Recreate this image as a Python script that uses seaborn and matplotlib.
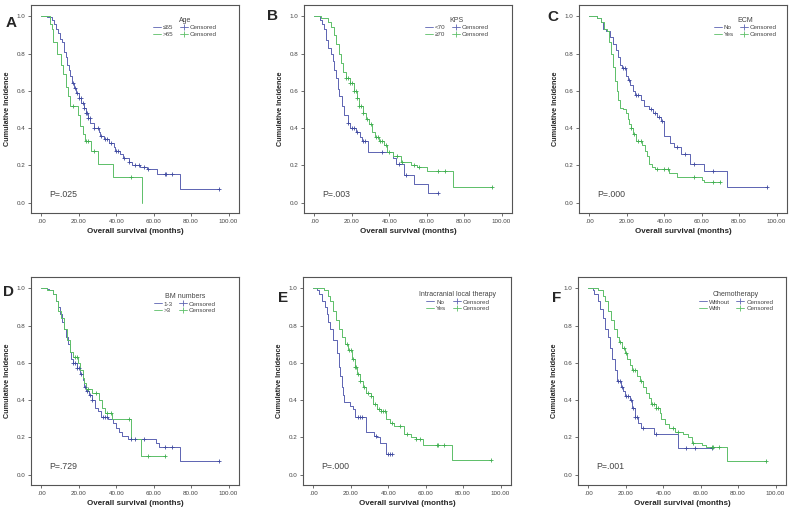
import numpy as np
import matplotlib
matplotlib.use("Agg")
import matplotlib.pyplot as plt
import seaborn as sns
from matplotlib.lines import Line2D

# ---- data (time in months, survival after each step) ----
# A: Age
a1_time = [0, 3, 5.7, 6.6, 8, 8.7, 10.1, 11, 11.9, 13, 13.7, 14.6, 15.5, 16.4, 17.3, 18.7, 20, 21.2, 22.6,
           23.8, 24.9, 26.2, 27.9, 30.6, 31.5, 33.3, 36, 38.6, 39.5, 42.2, 43.6, 46.6, 48.4, 52.8, 56.4,
           61.7, 74.2, 95]
a1_surv = [1.0, 0.995, 0.98, 0.96, 0.93, 0.91, 0.88, 0.86, 0.81, 0.78, 0.74, 0.71, 0.68, 0.64, 0.615, 0.59,
           0.56, 0.535, 0.51, 0.48, 0.455, 0.43, 0.40, 0.38, 0.36, 0.34, 0.32, 0.30, 0.28, 0.26, 0.24,
           0.22, 0.20, 0.19, 0.18, 0.155, 0.075, 0.075]
a1_cens = [17, 18, 19, 20, 21, 22, 23, 24, 24.5, 25, 26, 28, 30, 32, 34, 35, 37, 40, 41, 44, 47, 50,
           52, 55, 57, 66, 66.5, 70, 95]
a2_time = [0, 4.4, 5.5, 6.2, 8.3, 10.4, 11.5, 13, 14, 15.5, 19.5, 20.5, 22, 23.5, 26.5, 30, 38.5, 54]
a2_surv = [1.0, 0.96, 0.93, 0.86, 0.80, 0.74, 0.69, 0.62, 0.57, 0.52, 0.47, 0.41, 0.37, 0.33, 0.28,
           0.21, 0.14, 0.0]
a2_cens = [17, 24, 25, 28, 48]

# B: KPS
b1_time = [0, 3, 4, 5.3, 6.2, 7, 8.9, 10, 10.7, 11.6, 12.5, 13.3, 14.6, 16, 17.8, 19, 22, 24.5, 25.5,
           28.5, 42, 43.5, 48, 53, 60.5, 66]
b1_surv = [1.0, 0.98, 0.96, 0.93, 0.87, 0.83, 0.80, 0.76, 0.71, 0.67, 0.61, 0.57, 0.52, 0.47, 0.43,
           0.40, 0.38, 0.35, 0.33, 0.27, 0.24, 0.21, 0.15, 0.10, 0.05, 0.05]
b1_cens = [18, 20, 21, 23, 26, 27, 36, 45, 49, 66]
b2_time = [0, 3.5, 7, 9, 10.5, 11.5, 13, 14, 15.5, 17, 19, 21, 22.5, 24, 26, 27.5, 29, 31, 32.5, 34.5,
           37, 39, 42, 46, 51.5, 55, 60, 74, 95]
b2_surv = [1.0, 0.99, 0.97, 0.94, 0.90, 0.85, 0.80, 0.75, 0.70, 0.67, 0.64, 0.60, 0.56, 0.52, 0.48,
           0.45, 0.42, 0.38, 0.35, 0.33, 0.31, 0.27, 0.25, 0.22, 0.20, 0.19, 0.17, 0.085, 0.085]
b2_cens = [17, 18, 19, 20, 21, 22, 23, 24, 25, 26, 28, 30, 33, 34, 35, 36, 38, 40, 44, 47, 53, 56,
           66, 70, 95]

# C: ECM
c1_time = [0, 4, 6, 7.3, 9, 11, 12.5, 14, 15.5, 16.5, 17.5, 19.5, 20.5, 21.5, 23.5, 24.5, 27.5, 29,
           32, 34, 36, 38.5, 40, 43, 45, 49, 54, 61, 73.5, 95]
c1_surv = [1.0, 0.99, 0.97, 0.93, 0.92, 0.89, 0.85, 0.82, 0.78, 0.74, 0.72, 0.68, 0.66, 0.63, 0.60,
           0.58, 0.55, 0.52, 0.50, 0.48, 0.46, 0.44, 0.36, 0.32, 0.30, 0.26, 0.21, 0.17, 0.085, 0.085]
c1_cens = [18, 19, 21, 25, 26, 33, 35, 37, 39, 47, 51, 56, 66, 95]
c2_time = [0, 4, 6, 7.5, 9.5, 10.5, 11.5, 12.5, 13.5, 14.5, 15.5, 16.5, 18, 19.5, 20.5, 21, 22, 23.5,
           25, 28, 29.5, 31, 32, 33.5, 35, 42.5, 47, 60, 61, 70]
c2_surv = [1.0, 0.99, 0.97, 0.93, 0.92, 0.86, 0.80, 0.73, 0.65, 0.60, 0.55, 0.51, 0.50, 0.48, 0.45,
           0.42, 0.40, 0.37, 0.33, 0.31, 0.28, 0.25, 0.21, 0.19, 0.18, 0.16, 0.14, 0.12, 0.11, 0.11]
c2_cens = [22, 24, 26, 27.5, 36, 40, 42, 56, 66, 70]

# D: BM numbers
d1_time = [0, 3, 4, 6, 7.5, 9, 10, 11, 12, 13, 14, 15, 16, 17, 19, 20.5, 22, 23, 24, 25.5, 27, 28.5,
           30, 32, 35.5, 38, 40, 41.5, 43, 46, 61, 63, 74, 95]
d1_surv = [1.0, 0.995, 0.99, 0.97, 0.93, 0.90, 0.86, 0.82, 0.78, 0.74, 0.70, 0.66, 0.62, 0.60, 0.57,
           0.54, 0.51, 0.47, 0.45, 0.43, 0.40, 0.36, 0.34, 0.31, 0.30, 0.28, 0.25, 0.23, 0.21, 0.19,
           0.17, 0.15, 0.075, 0.075]
d1_cens = [17, 18, 19, 20, 21, 23.5, 24.5, 26, 27, 33, 34, 35, 48, 50, 55, 66, 70, 95]
d2_time = [0, 3, 6, 7.5, 9, 10.5, 12, 13.5, 15.5, 17, 19.5, 20.5, 22, 23, 24, 27, 31, 32.5, 34, 37.5,
           48, 53, 66]
d2_surv = [1.0, 0.99, 0.97, 0.93, 0.88, 0.84, 0.78, 0.72, 0.66, 0.63, 0.60, 0.56, 0.52, 0.49, 0.46,
           0.44, 0.40, 0.36, 0.33, 0.30, 0.19, 0.10, 0.10]
d2_cens = [18, 19, 25, 29, 35, 37, 47, 57, 66]

# E: Intracranial local therapy
e1_time = [0, 2, 3, 4.5, 6, 7, 8, 9, 10.5, 12.5, 13.5, 14, 15, 16, 16.5, 19.5, 21, 22, 28, 32.5, 34,
           35.5, 39, 42]
e1_surv = [1.0, 0.99, 0.97, 0.93, 0.90, 0.86, 0.82, 0.78, 0.72, 0.65, 0.58, 0.53, 0.47, 0.43, 0.39,
           0.37, 0.35, 0.31, 0.23, 0.21, 0.20, 0.17, 0.11, 0.11]
e1_cens = [24, 25, 26, 33.5, 40, 41, 42]
e2_time = [0, 5.5, 7.5, 9, 10.5, 12, 13.5, 15, 17, 18.5, 20.5, 22, 23.5, 25, 26.5, 28, 30.5, 32, 34,
           36, 39, 41, 43, 48.5, 52, 55, 58.5, 74, 95]
e2_surv = [1.0, 0.99, 0.96, 0.93, 0.88, 0.83, 0.78, 0.74, 0.70, 0.67, 0.62, 0.58, 0.54, 0.50, 0.47,
           0.44, 0.42, 0.38, 0.35, 0.34, 0.30, 0.28, 0.26, 0.22, 0.20, 0.19, 0.16, 0.08, 0.08]
e2_cens = [18, 19, 20, 21, 22, 23, 24, 25, 27, 29, 31, 33, 35, 36, 37, 38, 42, 46, 50, 55, 57, 66,
           66.5, 70, 95]

# F: Chemotherapy
f1_time = [0, 2.5, 3, 5, 6, 7.5, 9, 10.5, 11.5, 12.5, 14, 15.5, 17.5, 18.5, 19.5, 22, 23.5, 25, 26.5,
           28, 35, 48, 66]
f1_surv = [1.0, 0.99, 0.97, 0.93, 0.89, 0.84, 0.78, 0.74, 0.68, 0.62, 0.56, 0.50, 0.47, 0.45, 0.42,
           0.40, 0.36, 0.31, 0.28, 0.25, 0.22, 0.145, 0.145]
f1_cens = [16, 17, 18, 20, 21, 23, 24, 25, 26, 29, 36, 52, 57, 66]
f2_time = [0, 5, 7.5, 9, 10.5, 12, 13.5, 15, 16.5, 18, 19.5, 20.5, 22, 23.5, 26, 27.5, 29, 31, 32.5,
           33.5, 36, 38, 39, 41, 43, 46, 50.5, 53, 55.5, 60.5, 63, 74, 95]
f2_surv = [1.0, 0.99, 0.96, 0.93, 0.88, 0.83, 0.78, 0.74, 0.71, 0.68, 0.65, 0.62, 0.59, 0.56, 0.53,
           0.50, 0.47, 0.44, 0.41, 0.38, 0.36, 0.33, 0.30, 0.27, 0.25, 0.23, 0.22, 0.20, 0.17, 0.16,
           0.15, 0.075, 0.075]
f2_cens = [17, 19, 20, 24, 25, 28, 34, 35, 36, 37, 45, 48, 56, 66, 66.5, 70, 95]

letters = ["A", "B", "C", "D", "E", "F"]
titles = ["Age", "KPS", "ECM", "BM numbers", "Intracranial local therapy", "Chemotherapy"]
group_labels = [["≤65", ">65"], ["<70", "≥70"], ["No", "Yes"], ["1-3", ">3"], ["No", "Yes"],
                ["Without", "With"]]
p_values = ["P=.025", "P=.003", "P=.000", "P=.729", "P=.000", "P=.001"]
curves = [
    [(a1_time, a1_surv, a1_cens), (a2_time, a2_surv, a2_cens)],
    [(b1_time, b1_surv, b1_cens), (b2_time, b2_surv, b2_cens)],
    [(c1_time, c1_surv, c1_cens), (c2_time, c2_surv, c2_cens)],
    [(d1_time, d1_surv, d1_cens), (d2_time, d2_surv, d2_cens)],
    [(e1_time, e1_surv, e1_cens), (e2_time, e2_surv, e2_cens)],
    [(f1_time, f1_surv, f1_cens), (f2_time, f2_surv, f2_cens)],
]

# ---- style ----
sns.set_style("white")
plt.rcParams["font.family"] = ["Liberation Sans", "DejaVu Sans"]
line_colors = ["#5c63b2", "#5cbf68"]
mark_colors = ["#3f4aa0", "#3fae50"]
frame_col = "#555555"
text_col = "#444444"

W, H = 795, 514
fig = plt.figure(figsize=(W / 100, H / 100), dpi=100)

# axes boxes in pixels (left, top), all 208 x 208
boxes = [(31, 5), (304, 5), (579, 5), (31, 277), (303, 277), (578, 277)]
letter_pos = [(11, 23), (272, 16), (553, 17), (8, 292), (283, 298), (557, 298)]
legend_pos = [(0.74, 0.955), (0.735, 0.955), (0.80, 0.955), (0.74, 0.935), (0.745, 0.945), (0.76, 0.945)]

for i in range(6):
    l, t = boxes[i]
    ax = fig.add_axes([l / W, 1 - (t + 208) / H, 208 / W, 208 / H])
    handles_line = []
    handles_cens = []
    for k, (tm, sv, cs) in enumerate(curves[i]):
        tm = np.array(tm, dtype=float)
        sv = np.array(sv, dtype=float)
        sns.lineplot(x=tm, y=sv, ax=ax, color=line_colors[k], lw=0.7, drawstyle="steps-post",
                     estimator=None, sort=False, legend=False)
        cs = np.array(cs, dtype=float)
        idx = np.searchsorted(tm, cs, side="right") - 1
        sns.scatterplot(x=cs, y=sv[idx], ax=ax, marker="+", s=12, color=mark_colors[k],
                        linewidth=0.6, legend=False, zorder=3)
        handles_line.append(Line2D([], [], color=line_colors[k], lw=0.6))
        handles_cens.append(Line2D([], [], color=line_colors[k], lw=0.6, marker="|", markersize=4,
                                   markeredgewidth=0.6))

    ax.set_xlim(-5.6, 105.6)
    ax.set_ylim(-0.055, 1.06)
    ax.set_xticks([0, 20, 40, 60, 80, 100])
    ax.set_xticklabels([".00", "20.00", "40.00", "60.00", "80.00", "100.00"])
    ax.set_yticks([0, 0.2, 0.4, 0.6, 0.8, 1.0])
    ax.set_yticklabels(["0.0", "0.2", "0.4", "0.6", "0.8", "1.0"])
    ax.tick_params(axis="both", which="both", direction="out", length=2.5, width=0.6,
                   color=frame_col, labelsize=4.5, labelcolor=text_col, pad=1.5,
                   left=True, bottom=True)
    for sp in ax.spines.values():
        sp.set_color(frame_col)
        sp.set_linewidth(0.8)
    ax.set_xlabel("Overall survival (months)", fontsize=5.8, fontweight="bold", labelpad=3)
    ax.set_ylabel("Cumulative Incidence", fontsize=5.2, fontweight="bold", labelpad=4)

    ax.text(0.09, 0.09, p_values[i], transform=ax.transAxes, fontsize=6.3, color=text_col,
            va="center", ha="left")

    leg = ax.legend(handles_line + handles_cens, group_labels[i] + ["Censored", "Censored"],
                    title=titles[i], ncol=2, loc="upper center", bbox_to_anchor=legend_pos[i],
                    frameon=False, fontsize=4.5, title_fontsize=5, handlelength=1.3,
                    handletextpad=0.3, columnspacing=1.0, labelspacing=0.2, borderaxespad=0)
    leg.get_title().set_color(text_col)
    for txt in leg.get_texts():
        txt.set_color(text_col)

    lx, ly = letter_pos[i]
    fig.text(lx / W, 1 - ly / H, letters[i], fontsize=11, fontweight="bold", ha="center",
             va="center")

fig.savefig("out.png", dpi=100)
